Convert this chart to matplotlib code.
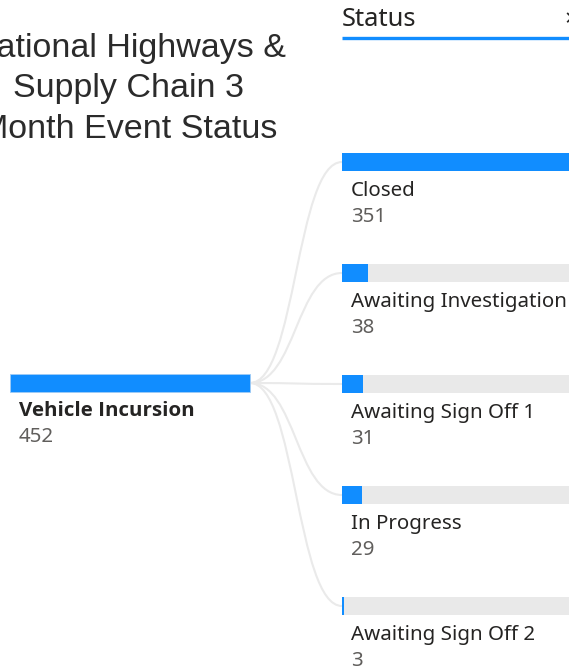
import matplotlib.pyplot as plt
from matplotlib.path import Path
from matplotlib.patches import PathPatch

# data
title_lines = ["National Highways &", "Supply Chain 3", "Month Event Status"]
level_name = "Status"
parent_name = "Vehicle Incursion"
parent_count = 452
statuses = ["Closed", "Awaiting Investigation", "Awaiting Sign Off 1",
            "In Progress", "Awaiting Sign Off 2"]
counts = [351, 38, 31, 29, 3]

BLUE = "#118DFF"
TRACK = "#E9E9E9"
LINK = "#EAEAEA"
DARK = "#252423"
GREY = "#605E5C"
LABEL_FONT = ["Noto Sans", "DejaVu Sans"]
BOLD_FONT = ["Open Sans", "DejaVu Sans"]

W, H = 569, 668
fig = plt.figure(figsize=(W / 100, H / 100), dpi=100)
ax = fig.add_axes([0, 0, 1, 1])
ax.set_xlim(0, W)
ax.set_ylim(H, 0)
ax.axis("off")


def px(size):
    return size * 0.72


# ------------------------------------------------------------
# title (cropped on the left like the original)
# ------------------------------------------------------------
for i, line in enumerate(title_lines):
    ax.text(129, 48 + i * 41, line, ha="center", va="center",
            fontsize=px(34), color="#2B2B2B", family="Liberation Sans")

# ------------------------------------------------------------
# level header
# ------------------------------------------------------------
ax.text(342, 19, level_name, ha="left", va="center", fontsize=px(25.5),
        color=DARK, family=LABEL_FONT)
ax.text(564, 20, "×", ha="left", va="center", fontsize=px(24),
        color=DARK, family=LABEL_FONT)
ax.plot([342, W], [38.3, 38.3], color=BLUE, lw=2.4, solid_capstyle="butt")

# ------------------------------------------------------------
# root node
# ------------------------------------------------------------
bar_w = 240
bar_h = 18.5
root_x, root_y = 10, 383
ax.barh(root_y, bar_w, left=root_x, height=bar_h, color=BLUE,
        edgecolor="#9FCBF5", linewidth=0.6)
ax.text(19, root_y + 28, parent_name, ha="left", va="center",
        fontsize=px(20.5), fontweight="bold", color=DARK, family=BOLD_FONT)
ax.text(19, root_y + 54, str(parent_count), ha="left", va="center",
        fontsize=px(20.5), color=GREY, family=LABEL_FONT)

# ------------------------------------------------------------
# child nodes + connectors
# ------------------------------------------------------------
child_x = 342
unit = bar_w / max(counts)
for i, (name, val) in enumerate(zip(statuses, counts)):
    yc = 162 + i * 111
    # connector
    x0, x1 = root_x + bar_w, child_x
    xm = (x0 + x1) / 2
    path = Path([(x0, root_y), (xm, root_y), (xm, yc), (x1, yc)],
                [Path.MOVETO, Path.CURVE4, Path.CURVE4, Path.CURVE4])
    ax.add_patch(PathPatch(path, fc="none", ec=LINK, lw=1.5, zorder=0))
    # track + value bar
    ax.barh(yc, bar_w, left=child_x, height=bar_h, color=TRACK, zorder=1)
    ax.barh(yc, val * unit, left=child_x, height=bar_h, color=BLUE, zorder=2)
    ax.text(351, yc + 29, name, ha="left", va="center", fontsize=px(20.5),
            color=DARK, family=LABEL_FONT)
    ax.text(351, yc + 55, str(val), ha="left", va="center", fontsize=px(20.5),
            color=GREY, family=LABEL_FONT)

fig.savefig("out.png", dpi=100, facecolor="white")
